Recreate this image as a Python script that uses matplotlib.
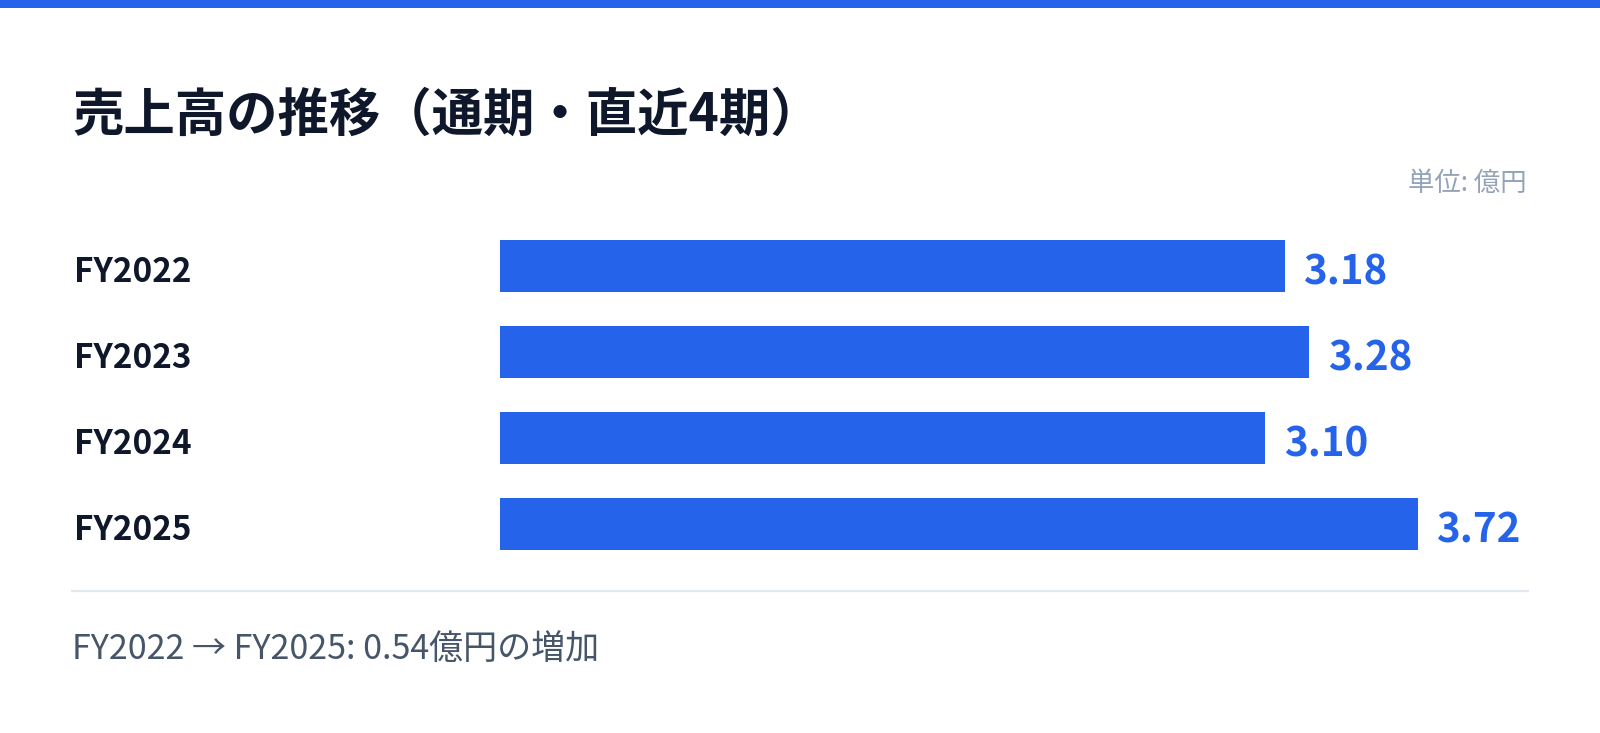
import matplotlib
matplotlib.use("Agg")
import matplotlib.pyplot as plt
from matplotlib import transforms
from matplotlib.lines import Line2D
from matplotlib.patches import Rectangle

plt.rcParams["font.family"] = ["Noto Sans CJK JP", "DejaVu Sans"]

TITLE = "売上高の推移（通期・直近4期）"
UNIT = "単位: 億円"
periods = ["FY2022", "FY2023", "FY2024", "FY2025"]
sales = [3.18, 3.28, 3.10, 3.72]
SUMMARY = "FY2022 → FY2025: 0.54億円の増加"

BLUE = "#2563EB"
DARK = "#0F172A"
GREY = "#94A3B8"
SLATE = "#475569"
RULE = "#E2E8F0"

W, H = 1600, 733


def fx(px):
    return px / W


def fy(py):
    return 1 - py / H


fig = plt.figure(figsize=(16, 7.33), dpi=100)
fig.patch.set_facecolor("white")

# top accent band
fig.patches.append(Rectangle((0, fy(7.5)), 1, 7.5 / H, transform=fig.transFigure,
                             facecolor=BLUE, edgecolor="none"))

fig.text(fx(72), fy(131), TITLE, fontsize=37, fontweight="bold", color=DARK,
         ha="left", va="baseline")
fig.text(fx(1527), fy(191), UNIT, fontsize=19, color=GREY, ha="right", va="baseline")

# bar area
ax_left, ax_right = 500, 1528
ax_top, ax_bot = 223, 567
ax = fig.add_axes([fx(ax_left), fy(ax_bot), (ax_right - ax_left) / W, (ax_bot - ax_top) / H])
ypos = list(range(len(periods)))
ax.barh(ypos, sales, height=0.6, color=BLUE, edgecolor="none")
ax.set_xlim(0, (ax_right - ax_left) / 246.7)
ax.set_ylim(len(periods) - 0.5, -0.5)
ax.axis("off")

for y, v in zip(ypos, sales):
    ax.annotate(f"{v:.2f}", (v, y), xytext=(13.5, -2), textcoords="offset points",
                fontsize=29, fontweight="bold", color=BLUE, ha="left", va="center_baseline")

lbl_tf = transforms.blended_transform_factory(fig.transFigure, ax.transData)
for y, name in zip(ypos, periods):
    ax.annotate(name, (fx(74), y), xycoords=lbl_tf, xytext=(0, -2), textcoords="offset points",
                fontsize=24, fontweight="bold", color=DARK, ha="left", va="center_baseline")

fig.lines.append(Line2D([fx(72), fx(1528)], [fy(590.7), fy(590.7)], transform=fig.transFigure,
                        color=RULE, linewidth=1.6))

fig.text(fx(72), fy(659), SUMMARY, fontsize=24.5, color=SLATE, ha="left", va="baseline")

fig.savefig("out.png", dpi=100, facecolor="white")
